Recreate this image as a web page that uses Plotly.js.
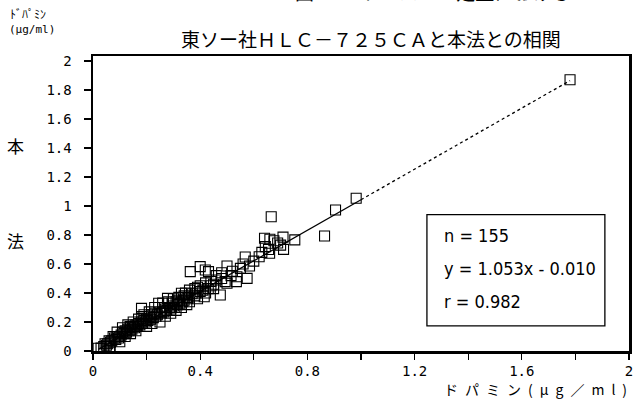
<!DOCTYPE html>
<html><head><meta charset="utf-8">
<script src="https://cdn.plot.ly/plotly-3.0.1.min.js"></script>
<style>body{margin:0;background:#fff}#c{width:641px;height:399px}</style>
</head><body><div id="c"></div>
<script>
// HLC-725CA (x) vs this method (y), dopamine µg/ml
const xVals = [1.78,0.982,0.905,0.864,0.665,0.753,0.709,0.711,0.640,0.643,0.659,0.689,0.675,0.655,0.700,0.568,0.584,0.575,0.535,0.50,
0.50,0.475,0.415,0.419,0.537,0.493,0.40,0.363,0.431,0.56,0.55,0.52,0.515,0.48,0.46,0.45,0.44,0.43,0.42,0.41,
0.40,0.39,0.385,0.38,0.37,0.36,0.355,0.35,0.345,0.34,0.335,0.33,0.325,0.32,0.315,0.31,0.305,0.30,0.295,0.29,
0.285,0.278,0.275,0.27,0.265,0.26,0.255,0.25,0.245,0.24,0.235,0.23,0.225,0.22,0.215,0.21,0.205,0.20,0.195,0.19,
0.185,0.181,0.18,0.175,0.17,0.165,0.16,0.155,0.15,0.145,0.14,0.135,0.13,0.125,0.12,0.115,0.11,0.105,0.10,0.10,
0.095,0.09,0.085,0.08,0.075,0.07,0.065,0.062,0.06,0.055,0.05,0.045,0.04,0.019,0.03,0.064,0.138,0.182,0.25,0.27,
0.29,0.31,0.33,0.35,0.22,0.20,0.16,0.14,0.12,0.26,0.28,0.30,0.23,0.21,0.19,0.17,0.15,0.13,0.11,0.09,
0.38,0.40,0.44,0.46,0.48,0.39,0.42,0.45,0.36,0.62,0.60,0.63,0.66,0.32,0.34];
const yVals = [1.87,1.053,0.972,0.793,0.926,0.766,0.785,0.701,0.777,0.72,0.674,0.745,0.760,0.700,0.730,0.648,0.586,0.501,0.478,0.586,
0.467,0.386,0.374,0.559,0.512,0.478,0.582,0.547,0.547,0.60,0.57,0.55,0.52,0.50,0.49,0.46,0.45,0.43,0.47,0.42,
0.41,0.44,0.40,0.38,0.395,0.42,0.37,0.36,0.40,0.35,0.34,0.398,0.33,0.35,0.32,0.34,0.30,0.31,0.33,0.29,
0.30,0.363,0.28,0.29,0.27,0.30,0.26,0.27,0.329,0.25,0.24,0.26,0.23,0.25,0.22,0.24,0.21,0.22,0.20,0.21,
0.19,0.294,0.20,0.18,0.19,0.17,0.18,0.16,0.17,0.15,0.16,0.14,0.15,0.13,0.14,0.12,0.13,0.11,0.064,0.10,
0.09,0.10,0.08,0.09,0.099,0.07,0.06,0.019,0.07,0.05,0.04,0.05,0.03,0.019,0.02,0.007,0.168,0.237,0.20,0.24,
0.26,0.28,0.30,0.32,0.19,0.17,0.14,0.12,0.10,0.33,0.34,0.36,0.30,0.27,0.25,0.22,0.20,0.18,0.16,0.13,
0.43,0.45,0.48,0.52,0.54,0.36,0.40,0.43,0.34,0.65,0.62,0.68,0.77,0.37,0.38];

// regression line y = slope*x + intercept
const slope = 1.053, intercept = -0.010;
const solidSpan = [0.02, 1.0];
const dottedSpan = [1.0, 1.78];
const statLines = ["n = 155", "y = 1.053x - 0.010", "r = 0.982"];
const xTickVals = [0, 0.4, 0.8, 1.2, 1.6, 2];
const xTickText = ['0', '0.4', '0.8', '1.2', '1.6', '2'];
const xMinorVals = [0.2, 0.6, 1.0, 1.4, 1.8];
const yTickVals = [0, 0.2, 0.4, 0.6, 0.8, 1, 1.2, 1.4, 1.6, 1.8, 2];
const yTickText = ['0', '0.2', '0.4', '0.6', '0.8', '1', '1.2', '1.4', '1.6', '1.8', '2'];

const fit = s => ({x: s, y: s.map(v => slope*v + intercept)});
const fs = fit(solidSpan), fd = fit(dottedSpan);

const data = [
  {x: fs.x, y: fs.y, mode:'lines', line:{color:'#000', width:1.3}, hoverinfo:'skip'},
  {x: fd.x, y: fd.y, mode:'lines', line:{color:'#000', width:1.3, dash:'dot'}, hoverinfo:'skip'},
  {x: xVals, y: yVals, mode:'markers', type:'scatter',
   marker:{symbol:'square-open', size:10, color:'#000', line:{width:1.1}}}
];

const tickFont = {family:'DejaVu Sans Mono, monospace', size:14, color:'#000'};
const jp = 'Noto Sans CJK JP, sans-serif';
const sp = '\u2002';
const layout = {
  width:641, height:399, showlegend:false,
  paper_bgcolor:'#fff', plot_bgcolor:'#fff',
  margin:{l:93, r:12, t:56, b:48},
  xaxis:{range:[0,2], showgrid:false, zeroline:false, showline:true, mirror:true,
    linecolor:'#000', linewidth:2.5, ticks:'outside', ticklen:6, tickwidth:1.2, tickcolor:'#000',
    tickvals:xTickVals, ticktext:xTickText,
    minor:{tickvals:xMinorVals, ticks:'outside', ticklen:6, tickwidth:1.2, tickcolor:'#000'},
    tickfont:tickFont},
  yaxis:{range:[0,2.034], showgrid:false, zeroline:false, showline:true, mirror:true,
    linecolor:'#000', linewidth:2.5, ticks:'outside', ticklen:7, tickwidth:1.2, tickcolor:'#000',
    tickvals:yTickVals, ticktext:yTickText,
    ticklabelstandoff:9, tickfont:tickFont},
  shapes:[{type:'rect', xref:'paper', yref:'paper', x0:0.623, x1:0.955, y0:0.085, y1:0.462,
    line:{color:'#000', width:1.3}, fillcolor:'rgba(0,0,0,0)'}],
  annotations:[
    {text:'東ソー社ＨＬＣ－７２５ＣＡと本法との相関', xref:'paper', yref:'paper', x:0.519, y:1.06,
     xanchor:'center', yanchor:'middle', showarrow:false, font:{family:jp, size:19, color:'#000'}},
    {text:'図．　　ドーパミン定量における', xref:'paper', yref:'paper', x:0.634, y:1.165,
     xanchor:'center', yanchor:'bottom', showarrow:false, font:{family:jp, size:19, color:'#000'}},
    {text:'ﾄﾞﾊﾟﾐﾝ', xref:'paper', yref:'paper', x:-0.158, y:1.145, xanchor:'left', yanchor:'middle',
     showarrow:false, font:{family:jp, size:12, color:'#000'}},
    {text:'(μg/ml)', xref:'paper', yref:'paper', x:-0.161, y:1.09, xanchor:'left', yanchor:'middle',
     showarrow:false, font:{family:'DejaVu Sans Mono, monospace', size:11, color:'#000'}},
    {text:'本', xref:'paper', yref:'paper', x:-0.145, y:0.695, xanchor:'center', yanchor:'middle',
     showarrow:false, font:{family:jp, size:17, color:'#000'}},
    {text:'法', xref:'paper', yref:'paper', x:-0.145, y:0.375, xanchor:'center', yanchor:'middle',
     showarrow:false, font:{family:jp, size:17, color:'#000'}},
    {text:['ド','パ','ミ','ン','(','μ','g','／','m','l',')'].join(sp), xref:'paper', yref:'paper', x:1.0, y:-0.13,
     xanchor:'right', yanchor:'middle', showarrow:false, font:{family:jp, size:14, color:'#000'}},
    ...statLines.map((t,i)=>({text:t, xref:'paper', yref:'paper', x:0.652, y:0.39 - i*0.111,
     xanchor:'left', yanchor:'middle', showarrow:false,
     font:{family:'Liberation Sans Narrow, DejaVu Sans Condensed, sans-serif', size:18, color:'#000'}}))
  ]
};
Plotly.newPlot('c', data, layout, {displayModeBar:false, staticPlot:true});
</script></body></html>
